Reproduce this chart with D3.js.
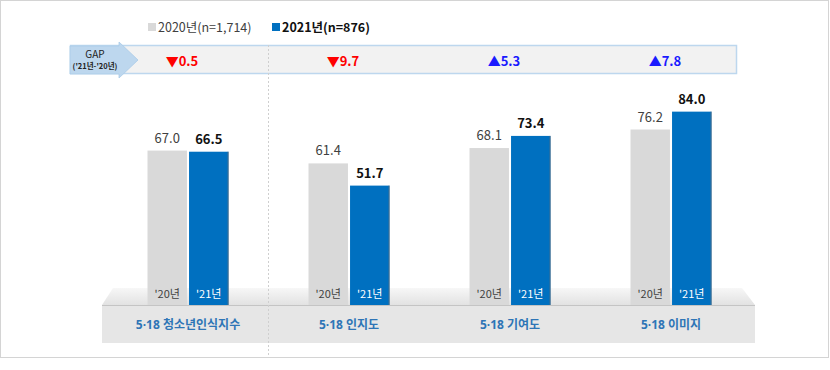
<!DOCTYPE html>
<html><head><meta charset="utf-8">
<script src="https://cdn.jsdelivr.net/npm/d3@7"></script>
<style>body{margin:0;background:#fff}svg{display:block;font-family:"Noto Sans CJK KR","Noto Sans",sans-serif}</style>
</head><body><svg id="c" width="830" height="370"></svg>
<script>
const categories = ["5·18 청소년인식지수", "5·18 인지도", "5·18 기여도", "5·18 이미지"];
const series = ["2020년(n=1,714)", "2021년(n=876)"];
const yearTags = ["'20년", "'21년"];
const values2020 = [67.0, 61.4, 68.1, 76.2];
const values2021 = [66.5, 51.7, 73.4, 84.0];
const gaps = [-0.5, -9.7, 5.3, 7.8];

const svg = d3.select("#c");
const colors = ["#d9d9d9", "#0070c0"];

// outer frame
svg.append("rect").attr("x",0.5).attr("y",0.5).attr("width",828).attr("height",357)
  .attr("fill","#fff").attr("stroke","#d4d4d4");

const x = d3.scaleBand().domain(categories).range([107.5, 751.5]);
const xs = d3.scaleBand().domain(series).range([-40.5, 40.5]).paddingInner(0.05);
const y = d3.scaleLinear().domain([0, 100]).range([304, 75]);

// defs
const defs = svg.append("defs");
const g1 = defs.append("linearGradient").attr("id","top").attr("x1",0).attr("y1",0).attr("x2",0).attr("y2",1);
g1.append("stop").attr("offset","0%").attr("stop-color","#f7f7f7");
g1.append("stop").attr("offset","100%").attr("stop-color","#e2e2e2");

// GAP band
svg.append("rect").attr("x",70.5).attr("y",45.5).attr("width",666).attr("height",28)
  .attr("fill","#f2f2f2").attr("stroke","#bdd7ee").attr("stroke-width",1.5);

// platform
svg.append("path").attr("d","M113,288 L742,288 L755,305 L102,305 Z").attr("fill","url(#top)");
svg.append("rect").attr("x",102).attr("y",305).attr("width",653).attr("height",38).attr("fill","#e6e6e6");
svg.append("line").attr("x1",102).attr("x2",755).attr("y1",305.5).attr("y2",305.5).attr("stroke","#c4c4c4");

// divider
svg.append("line").attr("x1",268.5).attr("x2",268.5).attr("y1",45).attr("y2",357)
  .attr("stroke","#cfcfcf").attr("stroke-dasharray","2,2");

// GAP arrow
svg.append("path").attr("d","M70,46 L119,46 L119,42 L138,60 L119,78 L119,74 L70,74 Z")
  .attr("fill","#bdd7ee").attr("stroke","#a9cbe9").attr("stroke-width",0.8);
svg.append("text").attr("x",95).attr("y",58).attr("text-anchor","middle")
  .attr("font-size",10).attr("fill","#222").text("GAP");
svg.append("text").attr("x",95).attr("y",69).attr("text-anchor","middle")
  .attr("font-size",7.5).attr("font-weight","bold").attr("fill","#222").text("('21년-'20년)");

// gap values
svg.selectAll("text.gap").data(gaps).join("text").attr("class","gap")
  .attr("x",(d,i)=>x(categories[i]) + x.bandwidth()/2 - 6).attr("y",65.5)
  .attr("text-anchor","middle").attr("font-size",13).attr("font-weight","bold")
  .attr("fill",d=>d<0?"#ff0000":"#1a1aff")
  .text(d=>(d<0?"▼":"▲") + Math.abs(d).toFixed(1));

// bars
const data = categories.map((c,i)=>({c, v:[values2020[i], values2021[i]]}));
const grp = svg.selectAll("g.grp").data(data).join("g").attr("class","grp")
  .attr("transform",d=>`translate(${x(d.c)+x.bandwidth()/2},0)`);

grp.selectAll("rect.bar").data(d=>d.v.map((v,j)=>({v,j}))).join("rect").attr("class","bar")
  .attr("x",d=>xs(series[d.j])).attr("width",xs.bandwidth())
  .attr("y",d=>y(d.v)).attr("height",d=>305-y(d.v)).attr("fill",d=>colors[d.j]);
// subtle dark right edge on blue bars
grp.append("rect").attr("x",xs(series[1])+xs.bandwidth()-1).attr("width",1.2)
  .attr("y",d=>y(d.v[1])).attr("height",d=>305-y(d.v[1])).attr("fill","#5a6f80").attr("opacity",0.7);

grp.selectAll("text.val").data(d=>d.v.map((v,j)=>({v,j}))).join("text").attr("class","val")
  .attr("x",d=>xs(series[d.j])+xs.bandwidth()/2).attr("y",d=>y(d.v)-8)
  .attr("text-anchor","middle").attr("font-size",13)
  .attr("font-weight",d=>d.j? "bold":"normal").attr("fill",d=>d.j?"#111":"#404040")
  .text(d=>d.v.toFixed(1));

grp.selectAll("text.tag").data(yearTags).join("text").attr("class","tag")
  .attr("x",(d,j)=>xs(series[j])+xs.bandwidth()/2).attr("y",298)
  .attr("text-anchor","middle").attr("font-size",11)
  .attr("fill",(d,j)=>j?"#fff":"#404040").text(d=>d);

grp.append("text").attr("x",0).attr("y",329).attr("text-anchor","middle")
  .attr("font-family","'Noto Sans','Noto Sans CJK KR',sans-serif")
  .attr("font-size",12).attr("font-weight","bold").attr("fill","#2e75b6").text(d=>d.c);

// legend
const lx = [148, 272];
const leg = svg.selectAll("g.leg").data(series).join("g").attr("class","leg")
  .attr("transform",(d,i)=>`translate(${lx[i]},0)`);
leg.append("rect").attr("x",0).attr("y",23).attr("width",8).attr("height",8).attr("fill",(d,i)=>colors[i]);
leg.append("text").attr("x",10).attr("y",32).attr("font-size",12.5)
  .attr("font-weight",(d,i)=>i?"bold":"normal").attr("fill",(d,i)=>i?"#111":"#404040").text(d=>d);
</script></body></html>
